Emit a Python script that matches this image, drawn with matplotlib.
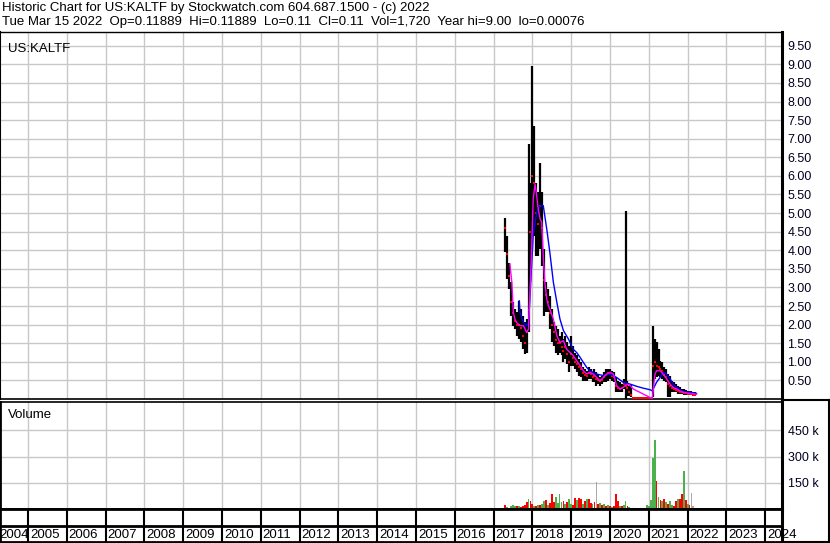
import numpy as np
import matplotlib.pyplot as plt
from matplotlib.lines import Line2D

plt.rcParams['font.family'] = ['Liberation Sans', 'DejaVu Sans']

# sampled every 0.05 year starting 2017.30
start = 2017.30
step = 0.05
nan = np.nan

hi = [4.88, 4.39, 3.67, 3.14, 2.60, 2.42, 2.33, 2.64, 2.42, 2.24,
      2.06, 2.15, 6.86, 5.82, 8.96, 7.35, 5.82, 5.56, 6.36, 5.56,
      4.03, 3.14, 2.96, 2.78, 2.42, 2.06, 1.97, 1.88, 1.70, 1.79,
      1.61, 1.70, 1.52, 1.43, 1.70, 1.43, 1.25, 1.17, 1.08, 0.99,
      0.85, 0.81, 0.76, 0.85, 0.81, 0.72, 0.81, 0.72, 0.67, 0.58,
      0.63, 0.72, 0.81, 0.81, 0.81, 0.76, 0.72, 0.58, 0.49, 0.45,
      0.40, 0.54, 5.05, 0.49, 0.36, 0.40, nan, nan, nan, nan,
      nan, nan, nan, nan, nan, nan, 1.97, 1.61, 1.52, 1.34,
      1.03, 0.99, 0.85, 0.81, 0.67, 0.63, 0.49, 0.45, 0.40, 0.36,
      0.31, 0.27, 0.27, 0.25, 0.22, 0.21, 0.21, 0.20, 0.20]
lo = [3.94, 3.23, 2.96, 2.24, 1.97, 1.88, 1.70, 1.61, 1.52, 1.34,
      1.21, 1.25, 1.79, 3.14, 4.03, 4.39, 3.85, 3.85, 4.03, 3.59,
      2.24, 2.33, 2.33, 1.88, 1.52, 1.43, 1.25, 1.17, 1.25, 1.17,
      0.99, 1.08, 0.94, 0.72, 0.90, 0.90, 0.81, 0.72, 0.63, 0.58,
      0.49, 0.49, 0.49, 0.54, 0.54, 0.45, 0.45, 0.36, 0.40, 0.36,
      0.40, 0.45, 0.45, 0.49, 0.54, 0.49, 0.45, 0.18, 0.18, 0.18,
      0.18, 0.27, 0.00, 0.09, 0.09, 0.05, nan, nan, nan, nan,
      nan, nan, nan, nan, nan, nan, 0.05, 0.54, 0.58, 0.63,
      0.58, 0.54, 0.49, 0.45, 0.05, 0.05, 0.18, 0.18, 0.18, 0.13,
      0.13, 0.13, 0.11, 0.11, 0.11, 0.11, 0.11, 0.11, 0.11]
close = [4.60, 3.90, 3.30, 2.60, 2.30, 2.10, 2.00, 2.00, 1.90, 1.70,
         1.50, 1.80, 2.40, 4.50, 6.00, 5.80, 5.00, 4.70, 5.20, 4.60,
         3.20, 2.80, 2.60, 2.30, 2.00, 1.80, 1.60, 1.50, 1.50, 1.40,
         1.30, 1.40, 1.20, 1.00, 1.20, 1.10, 1.00, 0.95, 0.85, 0.80,
         0.70, 0.65, 0.62, 0.70, 0.66, 0.60, 0.62, 0.55, 0.52, 0.48,
         0.50, 0.58, 0.65, 0.70, 0.68, 0.62, 0.60, 0.35, 0.30, 0.28,
         0.30, 0.40, 0.35, 0.30, 0.20, 0.10, 0.02, 0.02, 0.02, 0.02,
         0.02, 0.02, 0.02, 0.02, 0.02, 0.02, 0.90, 1.00, 0.90, 0.85,
         0.80, 0.75, 0.65, 0.60, 0.40, 0.35, 0.30, 0.28, 0.25, 0.22,
         0.20, 0.18, 0.16, 0.15, 0.14, 0.14, 0.13, 0.12, 0.11]

volume_k = [25, 12, 8, 20, 22, 15, 20, 18, 12, 20,
            25, 40, 60, 45, 30, 20, 18, 22, 25, 30,
            45, 50, 25, 35, 87, 40, 70, 35, 88, 40,
            45, 30, 40, 60, 30, 25, 65, 50, 65, 55,
            30, 45, 55, 58, 35, 30, 40, 154, 30, 35,
            25, 30, 20, 25, 15, 12, 20, 88, 45, 20,
            15, 25, 45, 20, 10, 8, 5, 4, 5, 4,
            5, 6, 5, 25, 20, 50, 294, 396, 160, 70,
            50, 45, 60, 40, 30, 45, 25, 20, 45, 55,
            60, 83, 217, 50, 30, 25, 92, 20, 5]
volume_dir = list("rgrgggrgrr" "rrgrrgrgrg" "grgrrrggg"
                  "g" "rgrggrrgrr" "grgrrgrsrg" "rgrgrgrrrg"
                  "rgg" "rgssss" "ssssgggg" "grg" "rgrgrggrrg" "rrgrgrs" "ss")

# moving averages (year, price)
ma_short_t = [2017.42, 2017.47, 2017.51, 2017.55, 2017.59, 2017.68, 2017.77, 2017.85,
              2017.90, 2017.94, 2017.98, 2018.02, 2018.07, 2018.11, 2018.15, 2018.20,
              2018.24, 2018.28, 2018.32, 2018.37, 2018.41, 2018.45, 2018.54, 2018.63,
              2018.71, 2018.80, 2018.88, 2018.97, 2019.05, 2019.14, 2019.23, 2019.31,
              2019.40, 2019.48, 2019.57, 2019.66, 2019.74, 2019.83, 2019.91, 2020.00,
              2020.09, 2020.17, 2020.26, 2020.34, 2020.43, 2020.52, 2020.60, 2020.69,
              2020.77, 2020.86, 2020.94, 2021.03, 2021.09, 2021.16, 2021.20, 2021.29,
              2021.37, 2021.46, 2021.55, 2021.63, 2021.72, 2021.80, 2021.89, 2022.06,
              2022.23]
ma_short = [3.63, 3.14, 2.33, 2.15, 2.06, 1.97, 1.97, 1.79,
            1.88, 2.96, 4.03, 5.38, 5.78, 5.47, 5.11, 4.84,
            4.75, 3.85, 3.14, 2.69, 2.51, 2.42, 2.15, 1.70,
            1.52, 1.57, 1.34, 1.25, 1.17, 1.03, 0.90, 0.76,
            0.67, 0.72, 0.67, 0.58, 0.49, 0.58, 0.67, 0.72,
            0.67, 0.36, 0.27, 0.31, 0.40, 0.36, 0.27, 0.22,
            0.18, 0.13, 0.09, 0.04, 0.02, 0.67, 0.76, 0.76,
            0.67, 0.54, 0.40, 0.31, 0.27, 0.22, 0.18, 0.15,
            0.13]
ma_long_t = [2017.66, 2017.68, 2017.77, 2017.85, 2017.90, 2017.94, 2017.98, 2018.02,
             2018.11, 2018.20, 2018.28, 2018.37, 2018.45, 2018.54, 2018.63, 2018.71,
             2018.80, 2018.93, 2019.05, 2019.14, 2019.23, 2019.31, 2019.40, 2019.48,
             2019.66, 2019.83, 2020.00, 2020.17, 2020.34, 2020.52, 2020.69, 2020.86,
             2021.03, 2021.09, 2021.20, 2021.29, 2021.37, 2021.46, 2021.55, 2021.63,
             2021.72, 2021.80, 2021.89, 2022.06, 2022.23]
ma_long = [2.64, 2.33, 2.06, 1.97, 2.06, 2.78, 3.59, 4.39,
           5.02, 5.20, 5.20, 4.57, 3.94, 3.14, 2.60, 2.15,
           1.84, 1.61, 1.34, 1.25, 1.12, 0.99, 0.85, 0.76,
           0.67, 0.63, 0.67, 0.58, 0.45, 0.40, 0.34, 0.29,
           0.25, 0.22, 0.45, 0.58, 0.72, 0.67, 0.54, 0.40,
           0.31, 0.25, 0.20, 0.18, 0.15]

years = list(range(2004, 2025))
price_ticks = [0.5, 1.0, 1.5, 2.0, 2.5, 3.0, 3.5, 4.0, 4.5, 5.0,
               5.5, 6.0, 6.5, 7.0, 7.5, 8.0, 8.5, 9.0, 9.5]
vol_ticks = [150, 300, 450]

t = start + step * np.arange(len(hi))
xmin, xmax = 2004.278, 2024.433
W, H = 830, 543
grid = '#c8c8c8'


def box(top, bottom):
    return [0, 1 - bottom / H, 782 / W, (bottom - top) / H]


fig = plt.figure(figsize=(W / 100, H / 100), dpi=100)

# price panel
ax = fig.add_axes(box(32, 399))
ax.set_xlim(xmin, xmax)
ax.set_ylim(0, 9.87)
for y in years:
    ax.axvline(y, color=grid, lw=1, zorder=0)
for p in price_ticks:
    ax.axhline(p, color=grid, lw=1, zorder=0)
ax.vlines(t, lo, hi, color='black', lw=1.6, zorder=2)
ax.plot(t, close, 's', color='red', ms=1.6, mew=0, zorder=3)
ax.plot(ma_long_t, ma_long, color='blue', lw=1, zorder=4)
ax.plot(ma_short_t, ma_short, color='magenta', lw=1, zorder=5)
ax.set_xticks([])
ax.yaxis.tick_right()
ax.set_yticks(price_ticks)
ax.set_yticklabels(['%.2f' % p for p in price_ticks])
ax.tick_params(axis='y', length=0, pad=4, labelsize=9, labelcolor='#000020')
for s in ax.spines.values():
    s.set_color('black')
ax.spines['right'].set_linewidth(2.2)
ax.spines['bottom'].set_linewidth(1.2)
ax.spines['top'].set_linewidth(1)
ax.spines['left'].set_linewidth(1.5)
ax.text(0.010, 0.97, 'US:KALTF', transform=ax.transAxes, fontsize=9.5, va='top')

# volume panel
axv = fig.add_axes(box(402, 509))
axv.set_xlim(xmin, xmax)
axv.set_ylim(0, 612)
for y in years:
    axv.axvline(y, color=grid, lw=1, zorder=0)
for v in vol_ticks:
    axv.axhline(v, color=grid, lw=1, zorder=0)
colors = {'g': '#4cb04c', 'r': '#ff0000', 's': '#aaaaaa'}
axv.bar(t, volume_k, width=step * 0.95, color=[colors[c] for c in volume_dir], zorder=2)
axv.set_xticks([])
axv.yaxis.tick_right()
axv.set_yticks(vol_ticks)
axv.set_yticklabels(['%d k' % v for v in vol_ticks])
axv.tick_params(axis='y', length=0, pad=4, labelsize=9, labelcolor='#000020')
for s in axv.spines.values():
    s.set_color('black')
axv.spines['right'].set_linewidth(2.2)
axv.spines['bottom'].set_linewidth(2)
axv.spines['top'].set_linewidth(1.2)
axv.spines['left'].set_linewidth(2)
axv.text(0.010, 0.93, 'Volume', transform=axv.transAxes, fontsize=9.5, va='top')

# date rows
axd = fig.add_axes(box(509, 542))
axd.set_xlim(xmin, xmax)
axd.set_ylim(0, 33)
axd.axhline(16, color='black', lw=2)
for y in years:
    axd.axvline(y, color='black', lw=1.5)
    axd.text(max(y + 0.05, xmin - 0.03), 7.5, str(y), fontsize=9.5, va='center',
             ha='left', clip_on=False)
axd.set_xticks([])
axd.set_yticks([])
for s in axd.spines.values():
    s.set_color('black')
    s.set_linewidth(2)
axd.spines['right'].set_linewidth(2.2)

# label column box beside volume
fig.add_artist(Line2D([782 / W, 829 / W], [1 - 400 / H, 1 - 400 / H], color='black', lw=1.5))
fig.add_artist(Line2D([829 / W, 829 / W], [1 - 400 / H, 1 - 542.5 / H], color='black', lw=1.5))
fig.add_artist(Line2D([782 / W, 829 / W], [1 - 542 / H, 1 - 542 / H], color='black', lw=1.5))

fig.text(2 / W, 1 - 8 / H, 'Historic Chart for US:KALTF by Stockwatch.com 604.687.1500 - (c) 2022',
         fontsize=9.5, va='center')
fig.text(2 / W, 1 - 22 / H,
         'Tue Mar 15 2022  Op=0.11889  Hi=0.11889  Lo=0.11  Cl=0.11  Vol=1,720  Year hi=9.00  lo=0.00076',
         fontsize=9.5, va='center')

fig.savefig('out.png', dpi=100)
